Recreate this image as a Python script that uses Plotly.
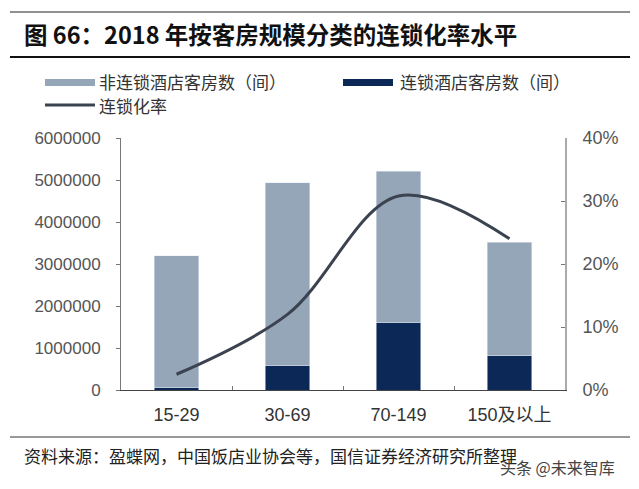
import plotly.graph_objects as go

categories = ["15-29", "30-69", "70-149", "150及以上"]
non_chain_rooms = [3150000, 4350000, 3610000, 2700000]
chain_rooms = [50000, 580000, 1600000, 820000]
chain_rate = [0.025, 0.12, 0.308, 0.24]

left_ticks = [0, 1000000, 2000000, 3000000, 4000000, 5000000, 6000000]
right_ticks = [0, 0.1, 0.2, 0.3, 0.4]
right_tick_labels = ["0%", "10%", "20%", "30%", "40%"]

GRAY_BAR = "#95a6b8"
NAVY_BAR = "#0b2857"
LINE_COL = "#3b4250"
FONT = "Liberation Sans, Arial, Noto Sans CJK SC, sans-serif"
CJK = "Noto Sans CJK SC, sans-serif"

W, H = 639, 489
L, R, T, B = 121, 74, 138, 99
PW, PH = W - L - R, H - T - B


def px(x):
    return (x - L) / PW


def py(y):
    return (H - B - y) / PH


fig = go.Figure()
fig.add_trace(go.Bar(x=categories, y=chain_rooms, name="连锁酒店客房数（间）",
                     marker_color=NAVY_BAR, width=0.4, showlegend=False))
fig.add_trace(go.Bar(x=categories, y=non_chain_rooms, name="非连锁酒店客房数（间）",
                     marker_color=GRAY_BAR, width=0.4, showlegend=False))
fig.add_trace(go.Scatter(x=categories, y=chain_rate, name="连锁化率", yaxis="y2",
                         mode="lines", line=dict(color=LINE_COL, width=3, shape="spline", smoothing=1.0),
                         showlegend=False))

shapes = [
    dict(type="line", xref="paper", yref="paper", x0=px(10), x1=px(630), y0=py(12), y1=py(12),
         line=dict(color="#222", width=1)),
    dict(type="line", xref="paper", yref="paper", x0=px(10), x1=px(630), y0=py(57), y1=py(57),
         line=dict(color="#111", width=2)),
    dict(type="line", xref="paper", yref="paper", x0=px(10), x1=px(630), y0=py(437), y1=py(437),
         line=dict(color="#333", width=1)),
    # legend swatches
    dict(type="rect", xref="paper", yref="paper", x0=px(45), x1=px(95), y0=py(79), y1=py(86),
         fillcolor=GRAY_BAR, line=dict(width=0)),
    dict(type="rect", xref="paper", yref="paper", x0=px(343), x1=px(393), y0=py(79), y1=py(86),
         fillcolor=NAVY_BAR, line=dict(width=0)),
    dict(type="line", xref="paper", yref="paper", x0=px(45), x1=px(95), y0=py(105), y1=py(105),
         line=dict(color=LINE_COL, width=3)),
]

annotations = [
    dict(text="<b>图 66：2018 年按客房规模分类的连锁化率水平</b>", xref="paper", yref="paper",
         x=px(22), y=py(34), xanchor="left", yanchor="middle", showarrow=False,
         font=dict(family=CJK, size=23.5, color="#111")),
    dict(text="非连锁酒店客房数（间）", xref="paper", yref="paper", x=px(97), y=py(82),
         xanchor="left", yanchor="middle", showarrow=False, font=dict(family=CJK, size=17, color="#333")),
    dict(text="连锁酒店客房数（间）", xref="paper", yref="paper", x=px(398), y=py(82),
         xanchor="left", yanchor="middle", showarrow=False, font=dict(family=CJK, size=17, color="#333")),
    dict(text="连锁化率", xref="paper", yref="paper", x=px(97), y=py(105),
         xanchor="left", yanchor="middle", showarrow=False, font=dict(family=CJK, size=17, color="#333")),
    dict(text="资料来源：盈蝶网，中国饭店业协会等，国信证券经济研究所整理", xref="paper", yref="paper",
         x=px(22), y=py(455), xanchor="left", yanchor="middle", showarrow=False,
         font=dict(family=CJK, size=17, color="#222")),
    dict(text="头条 @未来智库", xref="paper", yref="paper", x=px(617), y=py(467),
         xanchor="right", yanchor="middle", showarrow=False,
         font=dict(family=CJK, size=16, color="#444")),
]

fig.update_layout(
    width=W, height=H,
    margin=dict(l=L, r=R, t=T, b=B, pad=0),
    paper_bgcolor="white", plot_bgcolor="white",
    barmode="stack",
    showlegend=False,
    font=dict(family=FONT, size=17, color="#555"),
    xaxis=dict(type="category", showgrid=False, showline=True, linecolor="#444", linewidth=1,
               ticks="inside", tickson="boundaries", ticklen=4, tickcolor="#777",
               ticklabelstandoff=8,
               tickfont=dict(family=FONT, size=18, color="#333")),
    yaxis=dict(range=[0, 6000000], tickvals=left_ticks, ticktext=[str(v) for v in left_ticks],
               showgrid=False, showline=True, linecolor="#777", linewidth=1, ticks="outside",
               ticklen=4, tickcolor="#777", ticklabelstandoff=12,
               tickfont=dict(family=FONT, size=17, color="#555"), zeroline=False),
    yaxis2=dict(range=[0, 0.4], overlaying="y", side="right", tickvals=right_ticks,
                ticktext=right_tick_labels, showgrid=False, showline=True, linecolor="#aaa",
                linewidth=2, ticks="inside", ticklen=4, tickcolor="#777", ticklabelstandoff=12,
                tickfont=dict(family=FONT, size=18, color="#555"), zeroline=False),
    shapes=shapes,
    annotations=annotations,
)

fig.write_html("out.html", config={"displayModeBar": False},
               post_script="document.body.style.margin='0';")
